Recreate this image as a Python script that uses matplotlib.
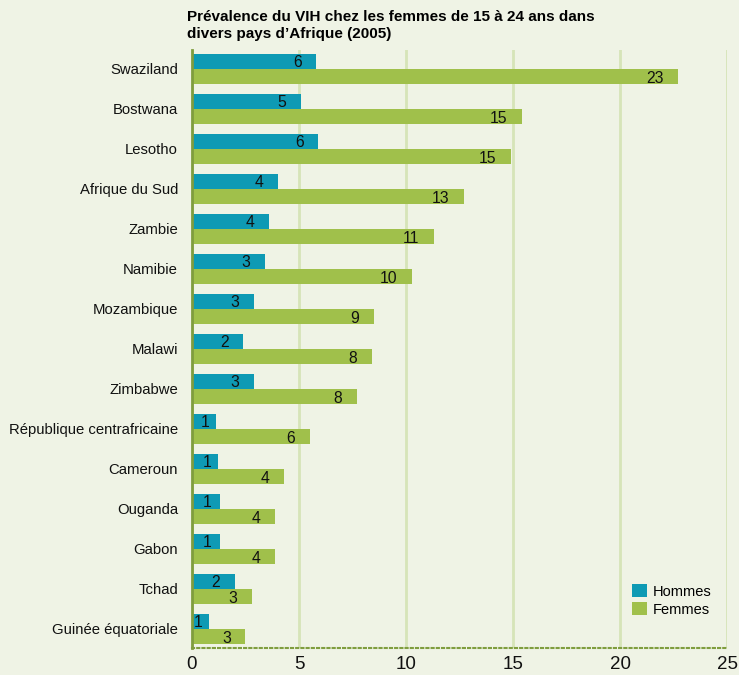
import matplotlib.pyplot as plt
import numpy as np

plt.rcParams['font.family'] = ['Liberation Sans', 'DejaVu Sans']

pays = ["Swaziland", "Bostwana", "Lesotho", "Afrique du Sud", "Zambie", "Namibie",
        "Mozambique", "Malawi", "Zimbabwe", "République centrafricaine", "Cameroun",
        "Ouganda", "Gabon", "Tchad", "Guinée équatoriale"]
hommes = [5.8, 5.1, 5.9, 4.0, 3.6, 3.4, 2.9, 2.4, 2.9, 1.1, 1.2, 1.3, 1.3, 2.0, 0.8]
femmes = [22.7, 15.4, 14.9, 12.7, 11.3, 10.3, 8.5, 8.4, 7.7, 5.5, 4.3, 3.9, 3.9, 2.8, 2.5]
lab_hommes = [6, 5, 6, 4, 4, 3, 3, 2, 3, 1, 1, 1, 1, 2, 1]
lab_femmes = [23, 15, 15, 13, 11, 10, 9, 8, 8, 6, 4, 4, 4, 3, 3]
xticks = [0, 5, 10, 15, 20, 25]

bg = "#eff3e5"
teal = "#0e9ab4"
green = "#a0c04b"

fig = plt.figure(figsize=(7.39, 6.75), dpi=100, facecolor=bg)
ax = fig.add_axes([0.2598, 0.04, 0.7240, 0.886])
ax.set_facecolor(bg)

y = np.arange(len(pays))
h = 0.375
ax.barh(y - h / 2, hommes, height=h, color=teal, label="Hommes", zorder=3)
ax.barh(y + h / 2, femmes, height=h, color=green, label="Femmes", zorder=3)


# label position: a bit inside the end of the bar
def lab_x(v):
    return max(v - 0.68, min(0.93, v - 0.3))


for i in range(len(pays)):
    ax.text(lab_x(hommes[i]), y[i] - h / 2 + 0.02, str(lab_hommes[i]),
            ha="right", va="center", fontsize=11.3, color="#111111", zorder=4)
    ax.text(lab_x(femmes[i]), y[i] + h / 2 + 0.04, str(lab_femmes[i]),
            ha="right", va="center", fontsize=11.3, color="#111111", zorder=4)

ax.set_xlim(0, 25)
ax.set_ylim(14.475, -0.475)
ax.set_xticks(xticks)
ax.set_xticklabels([str(t) for t in xticks], fontsize=13.5)
ax.set_yticks(y)
ax.set_yticklabels(pays, fontsize=10.7)
ax.tick_params(axis="both", length=0, colors="#111111")
ax.tick_params(axis="x", pad=6)
ax.tick_params(axis="y", pad=10)

ax.grid(axis="x", color="#d6e4b8", linewidth=2, zorder=0)
for s in ["top", "right"]:
    ax.spines[s].set_visible(False)
ax.spines["left"].set_color("#7f9d3e")
ax.spines["left"].set_linewidth(2)
ax.spines["left"].set_zorder(5)
ax.spines["bottom"].set_color("#7f9d3e")
ax.spines["bottom"].set_linestyle((0, (1, 1.5)))
ax.spines["bottom"].set_linewidth(1.5)

ax.legend(loc="lower right", bbox_to_anchor=(0.995, 0.03), frameon=False,
          fontsize=10.5, handlelength=1, handleheight=1, handletextpad=0.4,
          labelspacing=0.25)

fig.text(0.253, 0.985, "Prévalence du VIH chez les femmes de 15 à 24 ans dans\ndivers pays d’Afrique (2005)",
         ha="left", va="top", fontsize=11, fontweight="bold", linespacing=1.25)

fig.savefig("out.png", dpi=100, facecolor=bg)
